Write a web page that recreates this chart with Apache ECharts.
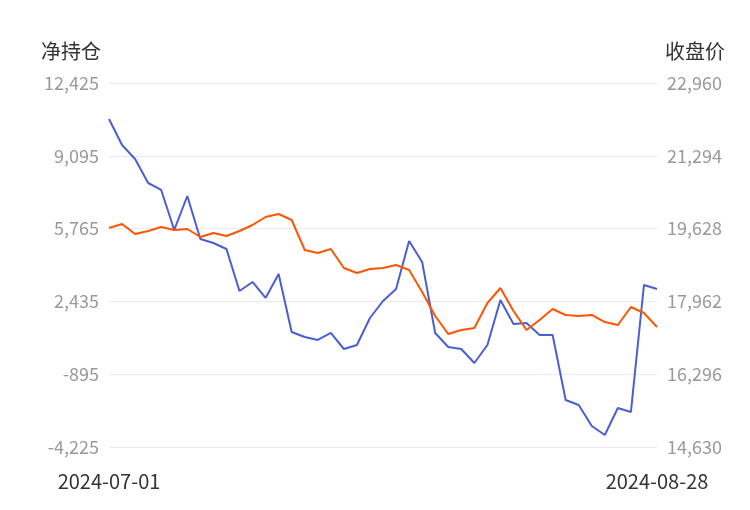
<!DOCTYPE html>
<html>
<head>
<meta charset="utf-8">
<script src="https://cdn.jsdelivr.net/npm/echarts@6/dist/echarts.min.js"></script>
<style>html,body{margin:0;padding:0;background:#fff}#chart{width:750px;height:510px}</style>
</head>
<body>
<div id="chart"></div>
<script>
const dates = [
  '2024-07-01','2024-07-02','2024-07-03','2024-07-04','2024-07-05',
  '2024-07-08','2024-07-09','2024-07-10','2024-07-11','2024-07-12',
  '2024-07-15','2024-07-16','2024-07-17','2024-07-18','2024-07-19',
  '2024-07-22','2024-07-23','2024-07-24','2024-07-25','2024-07-26',
  '2024-07-29','2024-07-30','2024-07-31','2024-08-01','2024-08-02',
  '2024-08-05','2024-08-06','2024-08-07','2024-08-08','2024-08-09',
  '2024-08-12','2024-08-13','2024-08-14','2024-08-15','2024-08-16',
  '2024-08-19','2024-08-20','2024-08-21','2024-08-22','2024-08-23',
  '2024-08-26','2024-08-27','2024-08-28'
];
const netPosition = [
  10778, 9589, 8949, 7851, 7531, 5701, 7256, 5290, 5107, 4832,
  2911, 3323, 2591, 3689, 1036, 807, 670, 990, 258, 441,
  1676, 2454, 3003, 5198, 4238, 990, 350, 258, -382, 441,
  2499, 1402, 1447, 899, 899, -2075, -2303, -3264, -3675, -2441,
  -2623, 3186, 3003
];
const closePrice = [
  19642, 19733, 19504, 19573, 19665, 19596, 19619, 19436, 19527, 19459,
  19573, 19710, 19893, 19962, 19825, 19138, 19070, 19161, 18726, 18612,
  18703, 18726, 18795, 18681, 18177, 17628, 17216, 17307, 17353, 17925,
  18269, 17742, 17307, 17536, 17788, 17651, 17628, 17651, 17490, 17422,
  17834, 17696, 17376
];
const leftTicks = { min: -4225, max: 12425, interval: 3330 };
const rightTicks = { min: 14630, max: 22960, interval: 1666 };

const chart = echarts.init(document.getElementById('chart'));
const font = 'Noto Sans CJK SC, Noto Sans, sans-serif';
const yAxisBase = (t, name, pos) => ({
  type: 'value',
  position: pos,
  name: name,
  nameGap: 22,
  nameTextStyle: { color: '#333', fontSize: 20, fontFamily: font, align: pos === 'left' ? 'right' : 'left', padding: pos === 'left' ? [0, 8, 0, 0] : [0, 0, 0, 8] },
  min: t.min, max: t.max, interval: t.interval,
  axisLine: { show: false }, axisTick: { show: false },
  axisLabel: { color: '#999', fontSize: 18, fontFamily: font, margin: 10,
    formatter: v => Math.round(v).toLocaleString('en-US') },
  splitLine: { lineStyle: { color: '#e6eaf2' } }
});
chart.setOption({
  animation: false,
  grid: { left: 109, right: 93, top: 83, bottom: 63 },
  xAxis: {
    type: 'category', data: dates, boundaryGap: false,
    axisLine: { show: false }, axisTick: { show: false },
    axisLabel: { color: '#333', fontSize: 20, fontFamily: font, margin: 24,
      interval: (i) => i === 0 || i === dates.length - 1, showMinLabel: true, showMaxLabel: true }
  },
  yAxis: [yAxisBase(leftTicks, '净持仓', 'left'), Object.assign(yAxisBase(rightTicks, '收盘价', 'right'), { splitLine: { show: false } })],
  series: [
    { name: '净持仓', type: 'line', yAxisIndex: 0, data: netPosition, symbol: 'none',
      lineStyle: { color: '#4a5fd1', width: 2 }, itemStyle: { color: '#4a5fd1' } },
    { name: '收盘价', type: 'line', yAxisIndex: 1, data: closePrice, symbol: 'none',
      lineStyle: { color: '#ff5500', width: 2 }, itemStyle: { color: '#ff5500' } }
  ]
});
</script>
</body>
</html>
